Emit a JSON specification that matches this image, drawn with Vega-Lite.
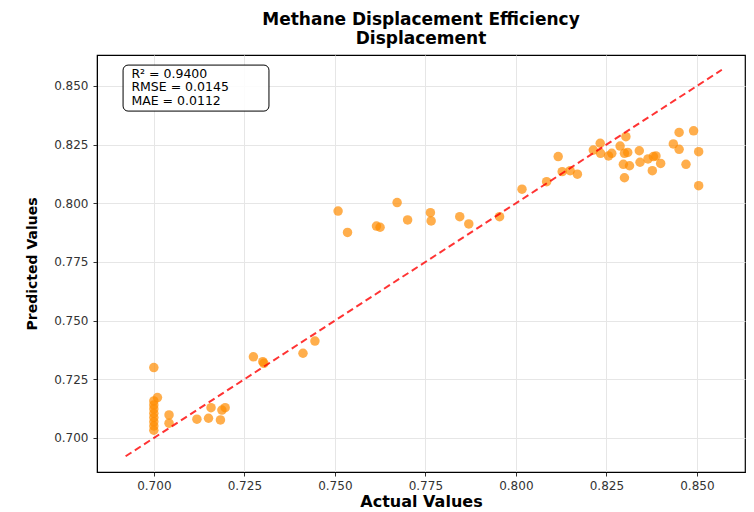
{
  "$schema": "https://vega.github.io/schema/vega-lite/v6.json",
  "autosize": "none",
  "width": 648,
  "height": 417,
  "padding": {"left": 97, "top": 55, "right": 9, "bottom": 40},
  "background": "white",
  "title": {
    "text": ["Methane Displacement Efficiency", "Displacement"],
    "font": "DejaVu Sans",
    "fontSize": 17,
    "fontWeight": "bold",
    "color": "black",
    "anchor": "middle",
    "lineHeight": 19,
    "offset": 7
  },
  "config": {
    "view": {"stroke": "black", "strokeWidth": 1.2},
    "axis": {
      "labelFont": "DejaVu Sans",
      "labelFontSize": 12,
      "labelColor": "#333333",
      "titleFont": "DejaVu Sans",
      "titleFontWeight": "bold",
      "titleColor": "black",
      "domainColor": "black",
      "tickColor": "#333333",
      "tickSize": 4,
      "gridColor": "#e6e6e6",
      "gridWidth": 1
    }
  },
  "datasets": {
    "pred": [
      {"actual": 0.7000, "predicted": 0.7300},
      {"actual": 0.7000, "predicted": 0.7158},
      {"actual": 0.7000, "predicted": 0.7141},
      {"actual": 0.7000, "predicted": 0.7124},
      {"actual": 0.7000, "predicted": 0.7105},
      {"actual": 0.7000, "predicted": 0.7087},
      {"actual": 0.7000, "predicted": 0.7069},
      {"actual": 0.7000, "predicted": 0.7051},
      {"actual": 0.7000, "predicted": 0.7033},
      {"actual": 0.7010, "predicted": 0.7172},
      {"actual": 0.7042, "predicted": 0.7098},
      {"actual": 0.7042, "predicted": 0.7063},
      {"actual": 0.7119, "predicted": 0.7080},
      {"actual": 0.7151, "predicted": 0.7084},
      {"actual": 0.7184, "predicted": 0.7077},
      {"actual": 0.7158, "predicted": 0.7129},
      {"actual": 0.7188, "predicted": 0.7119},
      {"actual": 0.7197, "predicted": 0.7129},
      {"actual": 0.7275, "predicted": 0.7346},
      {"actual": 0.7301, "predicted": 0.7325},
      {"actual": 0.7304, "predicted": 0.7318},
      {"actual": 0.7412, "predicted": 0.7361},
      {"actual": 0.7445, "predicted": 0.7413},
      {"actual": 0.7509, "predicted": 0.7967},
      {"actual": 0.7535, "predicted": 0.7876},
      {"actual": 0.7615, "predicted": 0.7903},
      {"actual": 0.7625, "predicted": 0.7898},
      {"actual": 0.7672, "predicted": 0.8003},
      {"actual": 0.7701, "predicted": 0.7929},
      {"actual": 0.7764, "predicted": 0.7960},
      {"actual": 0.7766, "predicted": 0.7925},
      {"actual": 0.7845, "predicted": 0.7943},
      {"actual": 0.7870, "predicted": 0.7912},
      {"actual": 0.7955, "predicted": 0.7943},
      {"actual": 0.8017, "predicted": 0.8060},
      {"actual": 0.8085, "predicted": 0.8092},
      {"actual": 0.8117, "predicted": 0.8199},
      {"actual": 0.8128, "predicted": 0.8135},
      {"actual": 0.8150, "predicted": 0.8139},
      {"actual": 0.8170, "predicted": 0.8124},
      {"actual": 0.8214, "predicted": 0.8227},
      {"actual": 0.8233, "predicted": 0.8256},
      {"actual": 0.8234, "predicted": 0.8213},
      {"actual": 0.8256, "predicted": 0.8202},
      {"actual": 0.8265, "predicted": 0.8213},
      {"actual": 0.8288, "predicted": 0.8244},
      {"actual": 0.8304, "predicted": 0.8284},
      {"actual": 0.8300, "predicted": 0.8213},
      {"actual": 0.8309, "predicted": 0.8217},
      {"actual": 0.8297, "predicted": 0.8166},
      {"actual": 0.8314, "predicted": 0.8160},
      {"actual": 0.8300, "predicted": 0.8109},
      {"actual": 0.8341, "predicted": 0.8224},
      {"actual": 0.8343, "predicted": 0.8175},
      {"actual": 0.8365, "predicted": 0.8189},
      {"actual": 0.8387, "predicted": 0.8202},
      {"actual": 0.8380, "predicted": 0.8199},
      {"actual": 0.8377, "predicted": 0.8139},
      {"actual": 0.8400, "predicted": 0.8170},
      {"actual": 0.8435, "predicted": 0.8253},
      {"actual": 0.8451, "predicted": 0.8302},
      {"actual": 0.8451, "predicted": 0.8230},
      {"actual": 0.8470, "predicted": 0.8166},
      {"actual": 0.8491, "predicted": 0.8309},
      {"actual": 0.8505, "predicted": 0.8220},
      {"actual": 0.8505, "predicted": 0.8075}
    ],
    "identity": [
      {"actual": 0.6922, "predicted": 0.6922},
      {"actual": 0.8569, "predicted": 0.8569}
    ],
    "statsBox": [
      {"x0": 0.6915, "x1": 0.7318, "y0": 0.8393, "y1": 0.8589}
    ],
    "stats": [
      {"actual": 0.6938, "predicted": 0.8553, "label": "R² = 0.9400\nRMSE = 0.0145\nMAE = 0.0112"}
    ]
  },
  "layer": [
    {
      "data": {"name": "pred"},
      "mark": {"type": "point", "filled": true, "shape": "circle", "size": 90, "color": "#ff8c00", "opacity": 0.7},
      "encoding": {
        "x": {
          "field": "actual", "type": "quantitative",
          "scale": {"domain": [0.6843, 0.8633], "nice": false, "zero": false},
          "axis": {
            "title": "Actual Values",
            "titleFontSize": 16,
            "values": [0.7, 0.725, 0.75, 0.775, 0.8, 0.825, 0.85],
            "format": ".3f",
            "labelPadding": 4,
            "titlePadding": 2
          }
        },
        "y": {
          "field": "predicted", "type": "quantitative",
          "scale": {"domain": [0.6855, 0.8632], "nice": false, "zero": false},
          "axis": {
            "title": "Predicted Values",
            "titleFontSize": 14,
            "values": [0.7, 0.725, 0.75, 0.775, 0.8, 0.825, 0.85],
            "format": ".3f",
            "labelPadding": 5,
            "titlePadding": 14
          }
        }
      }
    },
    {
      "data": {"name": "identity"},
      "mark": {"type": "line", "color": "red", "opacity": 0.8, "strokeWidth": 2, "strokeDash": [7, 4]},
      "encoding": {
        "x": {"field": "actual", "type": "quantitative"},
        "y": {"field": "predicted", "type": "quantitative"}
      }
    },
    {
      "data": {"name": "statsBox"},
      "mark": {"type": "rect", "fill": "white", "fillOpacity": 0.85, "stroke": "black", "strokeWidth": 1, "cornerRadius": 5},
      "encoding": {
        "x": {"field": "x0", "type": "quantitative"},
        "x2": {"field": "x1"},
        "y": {"field": "y0", "type": "quantitative"},
        "y2": {"field": "y1"}
      }
    },
    {
      "data": {"name": "stats"},
      "mark": {"type": "text", "align": "left", "baseline": "middle", "lineBreak": "\n", "lineHeight": 13.5, "font": "DejaVu Sans", "fontSize": 12.5, "color": "black"},
      "encoding": {
        "x": {"field": "actual", "type": "quantitative"},
        "y": {"field": "predicted", "type": "quantitative"},
        "text": {"field": "label"}
      }
    }
  ]
}
